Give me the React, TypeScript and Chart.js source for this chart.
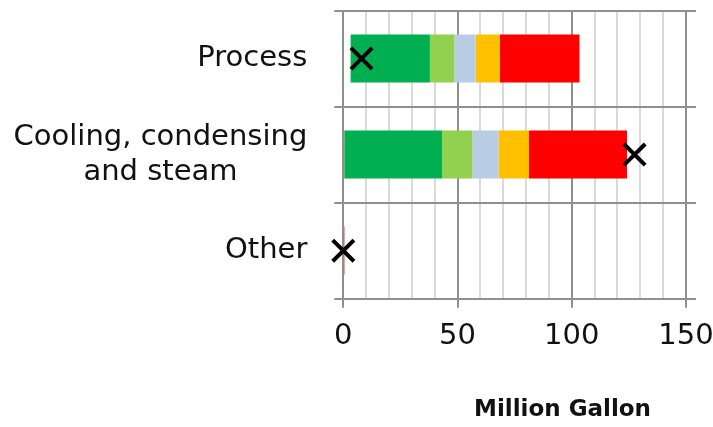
import React, { useEffect, useRef } from "react";
import { Chart, registerables } from "chart.js";

Chart.register(...registerables);

// ---- Data ----
const categories: string[][] = [["Process"], ["Cooling, condensing", "and steam"], ["Other"]];
const offsetValues = [3.2, 0, 0];
const greenValues = [34.7, 43.2, 0];
const lightGreenValues = [10.7, 13.3, 0];
const lightBlueValues = [9.3, 11.5, 0];
const orangeValues = [10.6, 13.3, 0];
const redValues = [34.9, 42.9, 0.6];
const markerValues = [8.0, 127.5, 0];
const xMajorTicks = [0, 50, 100, 150];
const xTitle = "Million Gallon";

const FONT = '"DejaVu Sans", sans-serif';
const LABEL_SIZE = 29;
const LINE_H = 34.8;

const isMajor = (v: number) => xMajorTicks.includes(Math.round(v));

const labelPlugin = {
  id: "customLabels",
  afterDraw(chart: any) {
    const { ctx, chartArea, scales } = chart;
    const y = scales.y;
    ctx.save();
    ctx.fillStyle = "#111";
    ctx.textBaseline = "middle";
    ctx.textAlign = "center";
    ctx.font = `${LABEL_SIZE}px ${FONT}`;
    const right = chartArea.left - 36;
    categories.forEach((lines, i) => {
      const cy = y.getPixelForValue(i);
      const w = Math.max(...lines.map((l) => ctx.measureText(l).width));
      const cx = right - w / 2;
      lines.forEach((line, k) => {
        ctx.fillText(line, cx, cy + (k - (lines.length - 1) / 2) * LINE_H);
      });
    });
    ctx.font = `bold 23px ${FONT}`;
    const tx = chartArea.left + 0.6215 * (chartArea.right - chartArea.left);
    ctx.fillText(xTitle, tx, 410.5);
    ctx.restore();
  },
};

export default function App() {
  const ref = useRef<HTMLCanvasElement | null>(null);

  useEffect(() => {
    document.body.style.margin = "0";
    if (!ref.current) return;
    const mk = (label: string, data: number[], color: string) => ({
      type: "bar" as const,
      label,
      data,
      backgroundColor: color,
      borderWidth: 0,
      barPercentage: 0.5,
      categoryPercentage: 1.0,
      order: 1,
    });
    const chart = new Chart(ref.current, {
      type: "bar",
      data: {
        labels: categories.map((c) => c.join(" ")),
        datasets: [
          mk("Offset", offsetValues, "rgba(0,0,0,0)"),
          mk("Green", greenValues, "#00B050"),
          mk("Light green", lightGreenValues, "#92D050"),
          mk("Light blue", lightBlueValues, "#B8CCE4"),
          mk("Orange", orangeValues, "#FFC000"),
          mk("Red", redValues, "#FF0000"),
          {
            type: "line" as const,
            label: "Marker",
            data: markerValues,
            indexAxis: "y",
            stack: "markers",
            showLine: false,
            pointStyle: "crossRot",
            pointRadius: 15,
            pointHoverRadius: 15,
            pointBorderWidth: 4,
            borderColor: "#000",
            backgroundColor: "#000",
            clip: false,
            order: 0,
          } as any,
        ],
      },
      options: {
        indexAxis: "y",
        animation: false,
        responsive: false,
        devicePixelRatio: 1,
        layout: { autoPadding: false, padding: { top: 10.5, left: 0, right: 17, bottom: 0 } },
        plugins: { legend: { display: false }, tooltip: { enabled: false }, title: { display: false } },
        scales: {
          x: {
            type: "linear",
            stacked: true,
            min: 0,
            max: 154.4,
            afterBuildTicks: (scale: any) => {
              scale.ticks = scale.ticks.filter((t: any) => t.value <= 150.5);
            },
            afterFit: (scale: any) => {
              scale.height = 427 - 298.7;
              scale.paddingRight = 0;
              scale.paddingLeft = 0;
            },
            ticks: {
              stepSize: 10,
              includeBounds: false,
              autoSkip: false,
              maxRotation: 0,
              padding: 11,
              color: "#111",
              font: { family: FONT, size: LABEL_SIZE },
              callback: (v: any) => (isMajor(Number(v)) ? String(Math.round(Number(v))) : ""),
            },
            grid: {
              color: (c: any) => (c.tick && isMajor(c.tick.value) ? "#8f8f8f" : "#dadada"),
              lineWidth: 2,
              tickLength: 9,
              tickColor: (c: any) => (c.tick && isMajor(c.tick.value) ? "#8f8f8f" : "rgba(0,0,0,0)"),
            },
            border: { display: false },
          },
          y: {
            type: "category",
            stacked: true,
            offset: true,
            afterFit: (scale: any) => {
              scale.width = 343.3;
            },
            ticks: { display: false },
            grid: {
              offset: true,
              color: "#8f8f8f",
              lineWidth: 2,
              tickLength: 9,
              tickColor: "#8f8f8f",
            },
            border: { display: false },
          },
        },
      },
      plugins: [labelPlugin],
    } as any);
    return () => chart.destroy();
  }, []);

  return <canvas ref={ref} width={713} height={427} style={{ display: "block" }} />;
}
